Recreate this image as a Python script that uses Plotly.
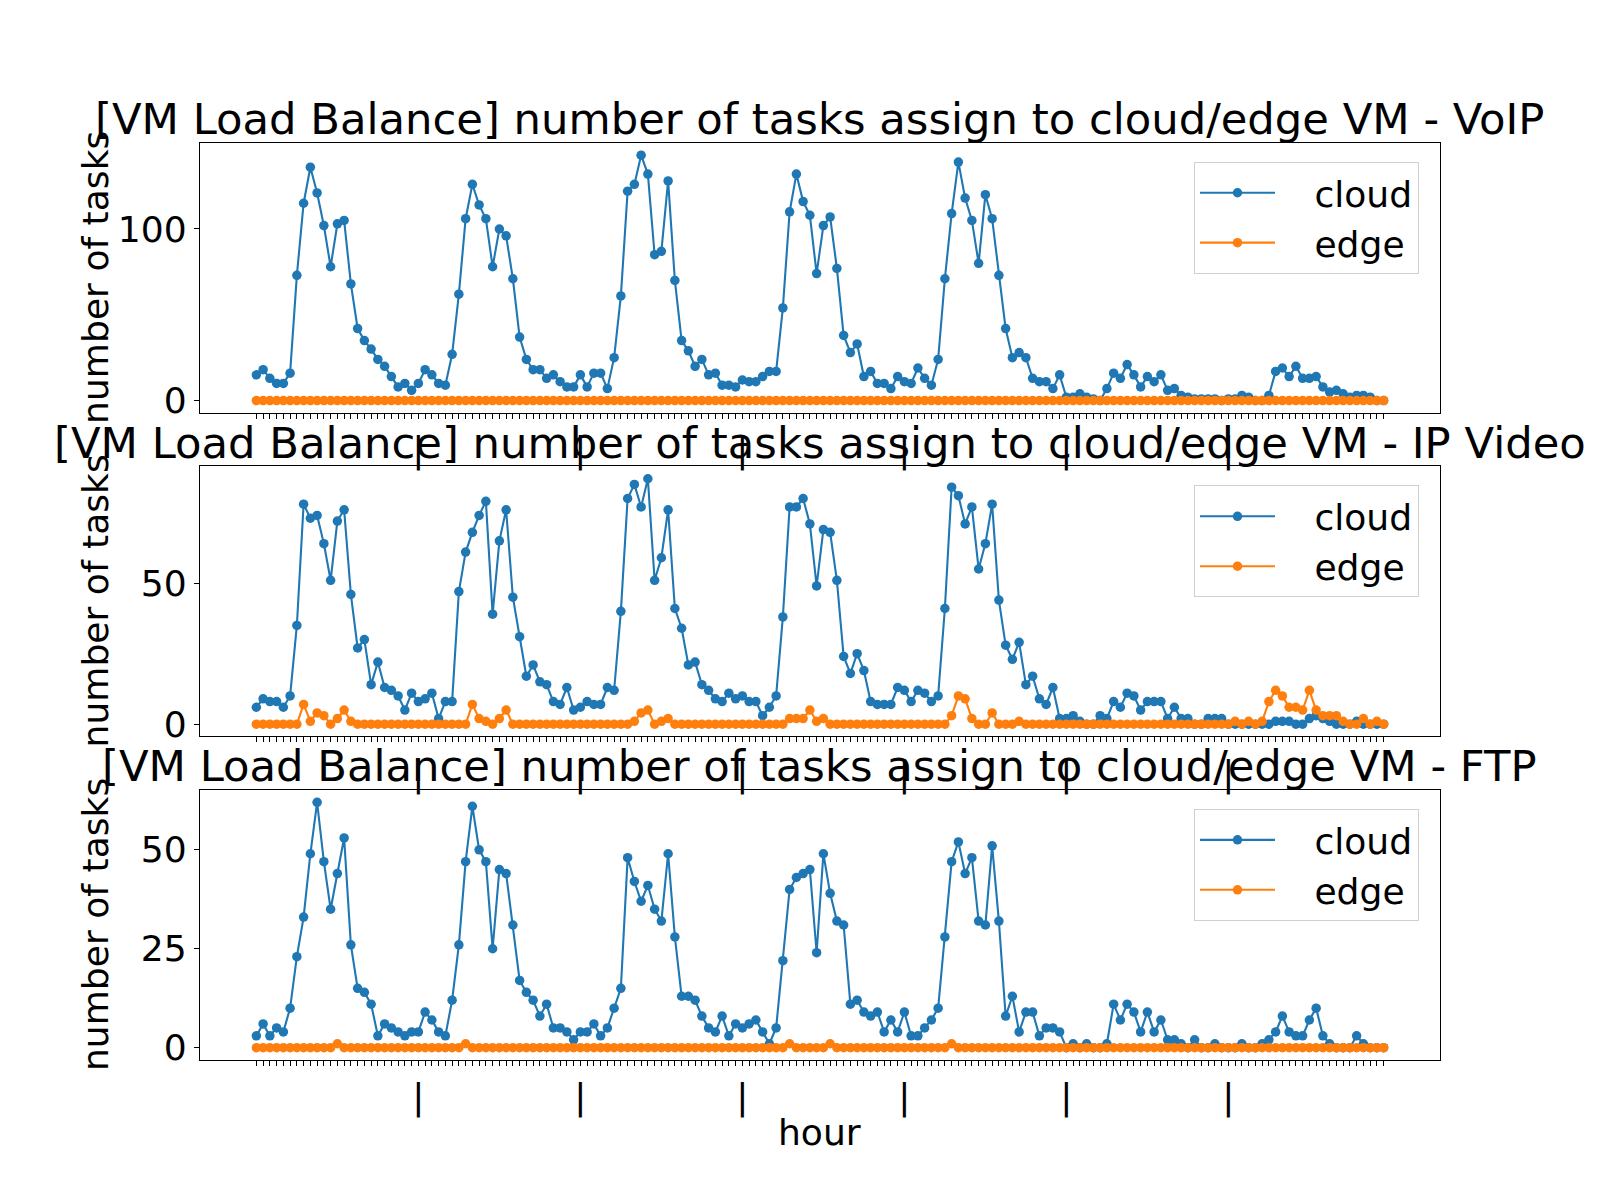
import plotly.graph_objects as go

hours = list(range(168))

voip_cloud = [15, 18, 13, 10, 10, 16, 73, 115, 136, 121, 102, 78, 103, 105, 68, 42, 35, 30, 24, 20,
              14, 8, 10, 6, 10, 18, 15, 10, 9, 27, 62, 106, 126, 114, 106, 78, 100, 96, 71, 37,
              24, 18, 18, 13, 15, 11, 8, 8, 15, 8, 16, 16, 7, 25, 61, 122, 126, 143, 132, 85,
              87, 128, 70, 35, 29, 20, 24, 15, 16, 9, 9, 8, 12, 11, 11, 14, 17, 17, 54, 110,
              132, 116, 108, 74, 102, 107, 77, 38, 28, 33, 14, 17, 10, 10, 7, 14, 11, 10, 19, 13,
              9, 24, 71, 109, 139, 118, 105, 80, 120, 106, 73, 42, 25, 28, 25, 13, 11, 11, 7, 15,
              2, 2, 4, 2, 1, 0, 7, 16, 13, 21, 15, 8, 14, 11, 15, 6, 7, 3, 2, 1,
              1, 1, 1, 0, 1, 1, 3, 2, 0, 0, 3, 17, 19, 14, 20, 13, 13, 14, 8, 5,
              6, 4, 2, 3, 3, 2, 0, 0]
voip_edge = [0] * 168

video_cloud = [6, 9, 8, 8, 6, 10, 35, 78, 73, 74, 64, 51, 72, 76, 46, 27, 30, 14, 22, 13,
               12, 10, 5, 11, 8, 9, 11, 2, 8, 8, 47, 61, 68, 74, 79, 39, 65, 76, 45, 31,
               17, 21, 15, 14, 8, 7, 13, 5, 6, 8, 7, 7, 13, 12, 40, 80, 85, 77, 87, 51,
               59, 76, 41, 34, 21, 22, 14, 12, 9, 8, 11, 9, 10, 8, 8, 3, 6, 10, 38, 77,
               77, 80, 71, 49, 69, 68, 51, 24, 18, 25, 19, 8, 7, 7, 7, 13, 12, 8, 12, 11,
               8, 10, 41, 84, 81, 71, 77, 55, 64, 78, 44, 28, 23, 29, 14, 17, 9, 7, 13, 2,
               2, 3, 1, 0, 0, 3, 2, 8, 6, 11, 10, 5, 8, 8, 8, 2, 6, 2, 2, 0,
               0, 2, 2, 2, 0, 0, 0, 0, 0, 0, 0, 1, 1, 1, 0, 0, 2, 3, 2, 1,
               0, 0, 0, 1, 0, 0, 0, 0]
video_edge = [0, 0, 0, 0, 0, 0, 0, 7, 1, 4, 3, 0, 2, 5, 1, 0, 0, 0, 0, 0,
              0, 0, 0, 0, 0, 0, 0, 0, 0, 0, 0, 0, 7, 2, 1, 0, 2, 5, 0, 0,
              0, 0, 0, 0, 0, 0, 0, 0, 0, 0, 0, 0, 0, 0, 0, 0, 1, 4, 5, 0,
              1, 2, 0, 0, 0, 0, 0, 0, 0, 0, 0, 0, 0, 0, 0, 0, 0, 0, 0, 2,
              2, 2, 5, 1, 2, 0, 0, 0, 0, 0, 0, 0, 0, 0, 0, 0, 0, 0, 0, 0,
              0, 0, 0, 3, 10, 9, 2, 0, 0, 4, 0, 0, 0, 1, 0, 0, 0, 0, 0, 0,
              0, 0, 0, 0, 0, 0, 0, 0, 0, 0, 0, 0, 0, 0, 0, 0, 0, 0, 0, 0,
              0, 0, 0, 0, 0, 1, 0, 1, 0, 1, 8, 12, 10, 6, 6, 5, 12, 5, 3, 3,
              3, 1, 0, 0, 2, 0, 1, 0]

ftp_cloud = [3, 6, 3, 5, 4, 10, 23, 33, 49, 62, 47, 35, 44, 53, 26, 15, 14, 11, 3, 6,
             5, 4, 3, 4, 4, 9, 7, 4, 3, 12, 26, 47, 61, 50, 47, 25, 45, 44, 31, 17,
             14, 12, 8, 11, 5, 5, 4, 2, 4, 4, 6, 3, 5, 10, 15, 48, 42, 37, 41, 35,
             32, 49, 28, 13, 13, 12, 8, 5, 4, 8, 3, 6, 5, 6, 7, 4, 1, 5, 22, 40,
             43, 44, 45, 24, 49, 39, 32, 31, 11, 12, 9, 8, 9, 4, 7, 4, 9, 3, 3, 5,
             7, 10, 28, 47, 52, 44, 48, 32, 31, 51, 32, 8, 13, 4, 9, 9, 3, 5, 5, 4,
             0, 1, 0, 1, 0, 0, 1, 11, 7, 11, 9, 4, 9, 4, 7, 2, 2, 1, 0, 2,
             0, 0, 1, 0, 0, 0, 1, 0, 0, 1, 2, 4, 8, 4, 3, 3, 7, 10, 3, 1,
             0, 0, 0, 3, 1, 0, 0, 0]
ftp_edge = [0, 0, 0, 0, 0, 0, 0, 0, 0, 0, 0, 0, 1, 0, 0, 0, 0, 0, 0, 0,
            0, 0, 0, 0, 0, 0, 0, 0, 0, 0, 0, 1, 0, 0, 0, 0, 0, 0, 0, 0,
            0, 0, 0, 0, 0, 0, 0, 0, 0, 0, 0, 0, 0, 0, 0, 0, 0, 0, 0, 0,
            0, 0, 0, 0, 0, 0, 0, 0, 0, 0, 0, 0, 0, 0, 0, 0, 0, 0, 0, 1,
            0, 0, 0, 0, 0, 1, 0, 0, 0, 0, 0, 0, 0, 0, 0, 0, 0, 0, 0, 0,
            0, 0, 0, 1, 0, 0, 0, 0, 0, 0, 0, 0, 0, 0, 0, 0, 0, 0, 0, 0,
            0, 0, 0, 0, 0, 0, 0, 0, 0, 0, 0, 0, 0, 0, 0, 0, 0, 0, 0, 0,
            0, 0, 0, 0, 0, 0, 0, 0, 0, 0, 0, 0, 0, 0, 0, 0, 0, 0, 0, 0,
            0, 0, 0, 0, 0, 0, 0, 0]

series_names = ["cloud", "edge"]
x_tick_labels = ["|" if (h % 24 == 0 and h > 0) else "" for h in hours]
titles = ["[VM Load Balance] number of tasks assign to cloud/edge VM - VoIP",
          "[VM Load Balance] number of tasks assign to cloud/edge VM - IP Video",
          "[VM Load Balance] number of tasks assign to cloud/edge VM - FTP"]
y_ticks = [[0, 100], [0, 50], [0, 25, 50]]
series = [(voip_cloud, voip_edge), (video_cloud, video_edge), (ftp_cloud, ftp_edge)]

W, H = 1600, 1200
FONT = "DejaVu Sans"
FS = 36.1
TFS = 43.3
COLORS = ["#1f77b4", "#ff7f0e"]
px_left, px_right = 200, 1440
px_rows = [(144, 416), (470, 742), (796, 1068)]
PAD = "\u00a0\u00a0\u00a0"

fig = go.Figure()
annotations = []
for k, (vals, title, yt) in enumerate(zip(series, titles, y_ticks)):
    n = k + 1
    sfx = "" if n == 1 else str(n)
    leg = "legend" if n == 1 else f"legend{n}"
    for name, ys, col in zip(series_names, vals, COLORS):
        fig.add_trace(go.Scatter(x=hours, y=ys, mode="lines+markers", name=PAD + name,
                                 line=dict(color=col, width=2.1), marker=dict(size=9.5, color=col),
                                 xaxis="x" + sfx, yaxis="y" + sfx, legend=leg,
                                 legendgroup=f"{name}{n}"))
    top, bot = px_rows[k]
    lo = min(min(v) for v in vals); hi = max(max(v) for v in vals)
    span = hi - lo
    axcommon = dict(showline=True, linecolor="black", linewidth=1.1, mirror=True,
                    showgrid=False, zeroline=False, ticks="outside", ticklen=5,
                    tickwidth=1.1, tickcolor="black",
                    tickfont=dict(family=FONT, size=FS, color="black"))
    fig.layout["xaxis" + sfx] = dict(domain=[px_left / W, px_right / W], anchor="y" + sfx,
                                     range=[-0.05 * 167, 167 * 1.05], tickmode="array",
                                     tickvals=hours, ticktext=x_tick_labels, **axcommon)
    fig.layout["yaxis" + sfx] = dict(domain=[1 - bot / H, 1 - top / H], anchor="x" + sfx,
                                     range=[lo - 0.05 * span, hi + 0.05 * span],
                                     tickmode="array", tickvals=yt, **axcommon)
    fig.layout[leg] = dict(x=1194 / W, y=1 - (top + 19) / H, xanchor="left", yanchor="top",
                           bgcolor="rgba(255,255,255,0.8)", bordercolor="#d0d0d0", borderwidth=1,
                           itemwidth=75, tracegroupgap=5, traceorder="normal",
                           font=dict(family=FONT, size=FS, color="black"))
    annotations.append(dict(text=title, xref="paper", yref="paper", x=(px_left + px_right) / 2 / W,
                            y=1 - (top - 8 + 0.236 * TFS + 1) / H, xanchor="center", yanchor="bottom",
                            showarrow=False, font=dict(family=FONT, size=TFS, color="black")))
    annotations.append(dict(text="number of tasks", xref="paper", yref="paper", x=96 / W,
                            y=1 - (top + bot) / 2 / H, xanchor="center", yanchor="middle",
                            textangle=-90, showarrow=False,
                            font=dict(family=FONT, size=FS, color="black")))

annotations.append(dict(text="hour", xref="paper", yref="paper", x=(px_left + px_right) / 2 / W,
                        y=1 - 1142 / H, xanchor="center", yanchor="middle", showarrow=False,
                        font=dict(family=FONT, size=FS, color="black")))

fig.update_layout(width=W, height=H, margin=dict(l=0, r=0, t=0, b=0),
                  paper_bgcolor="white", plot_bgcolor="white", annotations=annotations,
                  showlegend=True, font=dict(family=FONT, color="black"))
fig.write_html("out.html")
